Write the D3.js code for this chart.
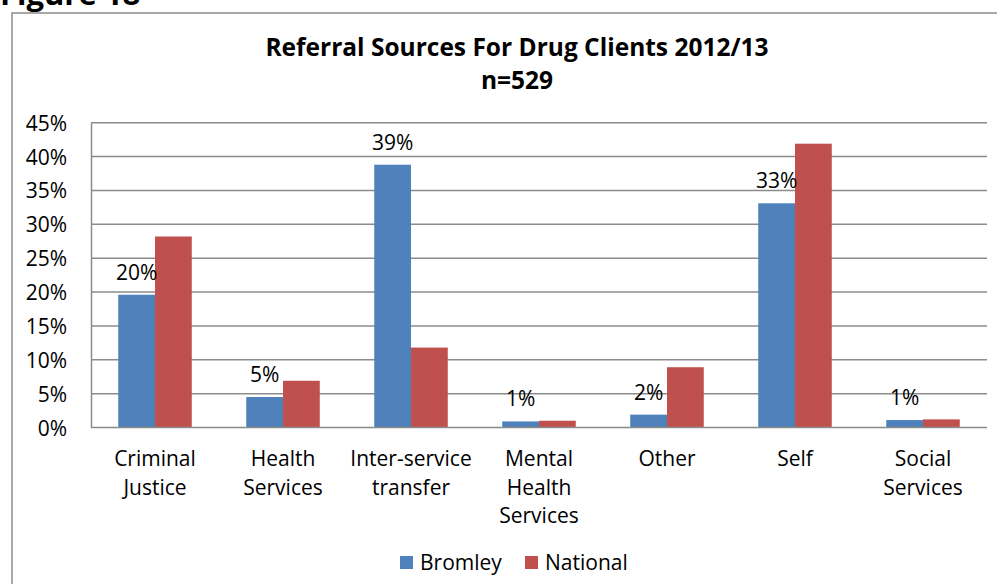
<!DOCTYPE html>
<html>
<head>
<meta charset="utf-8">
<script src="https://cdn.jsdelivr.net/npm/d3@7"></script>
<style>
  html, body { margin: 0; padding: 0; background: #fff; }
  svg { display: block; }
  text { font-family: "Open Sans", Carlito, Lato, sans-serif; fill: #000; }
</style>
</head>
<body>
<svg id="chart" width="997" height="584"></svg>
<script>
const categories = [
  ["Criminal", "Justice"],
  ["Health", "Services"],
  ["Inter-service", "transfer"],
  ["Mental", "Health", "Services"],
  ["Other"],
  ["Self"],
  ["Social", "Services"]
];
const seriesNames = ["Bromley", "National"];
const bromley  = [19.6, 4.5, 38.8, 0.9, 1.9, 33.1, 1.1];
const national = [28.2, 6.9, 11.8, 1.0, 8.9, 41.9, 1.2];
const yTicks = [0, 5, 10, 15, 20, 25, 30, 35, 40, 45];
const colors = ["#4F81BD", "#C0504D"];
const titleLines = ["Referral Sources For Drug Clients 2012/13", "n=529"];

const svg = d3.select("#chart");

// "Figure 18" heading, cut off at top (as in the reference)
svg.append("text").attr("x", 0).attr("y", 5)
  .attr("font-size", 31).attr("font-weight", "bold").text("Figure 18");

// chart border
svg.append("rect").attr("x", 12).attr("y", 13).attr("width", 1100).attr("height", 700)
  .attr("fill", "none").attr("stroke", "#8c8c8c").attr("stroke-width", 1.5);

// title
svg.selectAll(".title").data(titleLines).join("text")
  .attr("x", 517).attr("y", (d, i) => 56 + i * 33)
  .attr("text-anchor", "middle").attr("font-size", 24.5).attr("font-weight", "bold")
  .text(d => d);

const plotLeft = 91, plotRight = 987, plotTop = 122.7, plotBottom = 427.5;
const keys = categories.map((c, i) => i);
const x = d3.scaleBand().domain(keys).range([plotLeft, plotRight]).paddingInner(0.4255).paddingOuter(0.2128);
const x1 = d3.scaleBand().domain([0, 1]).range([0, x.bandwidth()]);
const y = d3.scaleLinear().domain([0, 45]).range([plotBottom, plotTop]);

// gridlines
svg.append("g").selectAll("line").data(yTicks.filter(d => d > 0)).join("line")
  .attr("x1", plotLeft).attr("x2", plotRight)
  .attr("y1", d => y(d)).attr("y2", d => y(d))
  .attr("stroke", "#8c8c8c").attr("stroke-width", 1.5);

// y axis
const yAxis = svg.append("g").attr("transform", `translate(${plotLeft},0)`)
  .call(d3.axisLeft(y).tickValues(yTicks).tickFormat(d => d + "%").tickSize(0).tickPadding(24));
yAxis.select(".domain").attr("stroke", "#8c8c8c").attr("stroke-width", 1.5);
yAxis.selectAll("text").attr("font-size", 21).attr("font-family", "'Open Sans', sans-serif").attr("dy", "0.36em");

// bars
const series = [bromley, national];
series.forEach((vals, s) => {
  svg.append("g").selectAll("rect").data(vals).join("rect")
    .attr("x", (d, i) => x(i) + x1(s))
    .attr("width", x1.bandwidth())
    .attr("y", d => y(d))
    .attr("height", d => plotBottom - y(d))
    .attr("fill", colors[s]);
});

// data labels (Bromley)
svg.append("g").selectAll("text").data(bromley).join("text")
  .attr("x", (d, i) => x(i) + x1(0) + x1.bandwidth() / 2)
  .attr("y", d => y(d) - 15)
  .attr("text-anchor", "middle").attr("font-size", 21)
  .text(d => Math.round(d) + "%");

// x axis line
svg.append("line").attr("x1", plotLeft).attr("x2", plotRight).attr("y1", plotBottom).attr("y2", plotBottom)
  .attr("stroke", "#8c8c8c").attr("stroke-width", 1.5);

// category labels
const catG = svg.append("g").selectAll("text").data(categories).join("text")
  .attr("x", (d, i) => x(i) + x.bandwidth() / 2)
  .attr("y", 466)
  .attr("text-anchor", "middle").attr("font-size", 21);
catG.selectAll("tspan").data(d => d).join("tspan")
  .attr("x", function() { return d3.select(this.parentNode).attr("x"); })
  .attr("dy", (d, i) => i === 0 ? 0 : 28.5)
  .text(d => d);

// legend
const legendX = [400, 525];
const lg = svg.append("g").selectAll("g").data(seriesNames).join("g")
  .attr("transform", (d, i) => `translate(${legendX[i]},556)`);
lg.append("rect").attr("width", 13).attr("height", 13).attr("fill", (d, i) => colors[i]);
lg.append("text").attr("x", 20).attr("y", 14).attr("font-size", 21).text(d => d);
</script>
</body>
</html>
